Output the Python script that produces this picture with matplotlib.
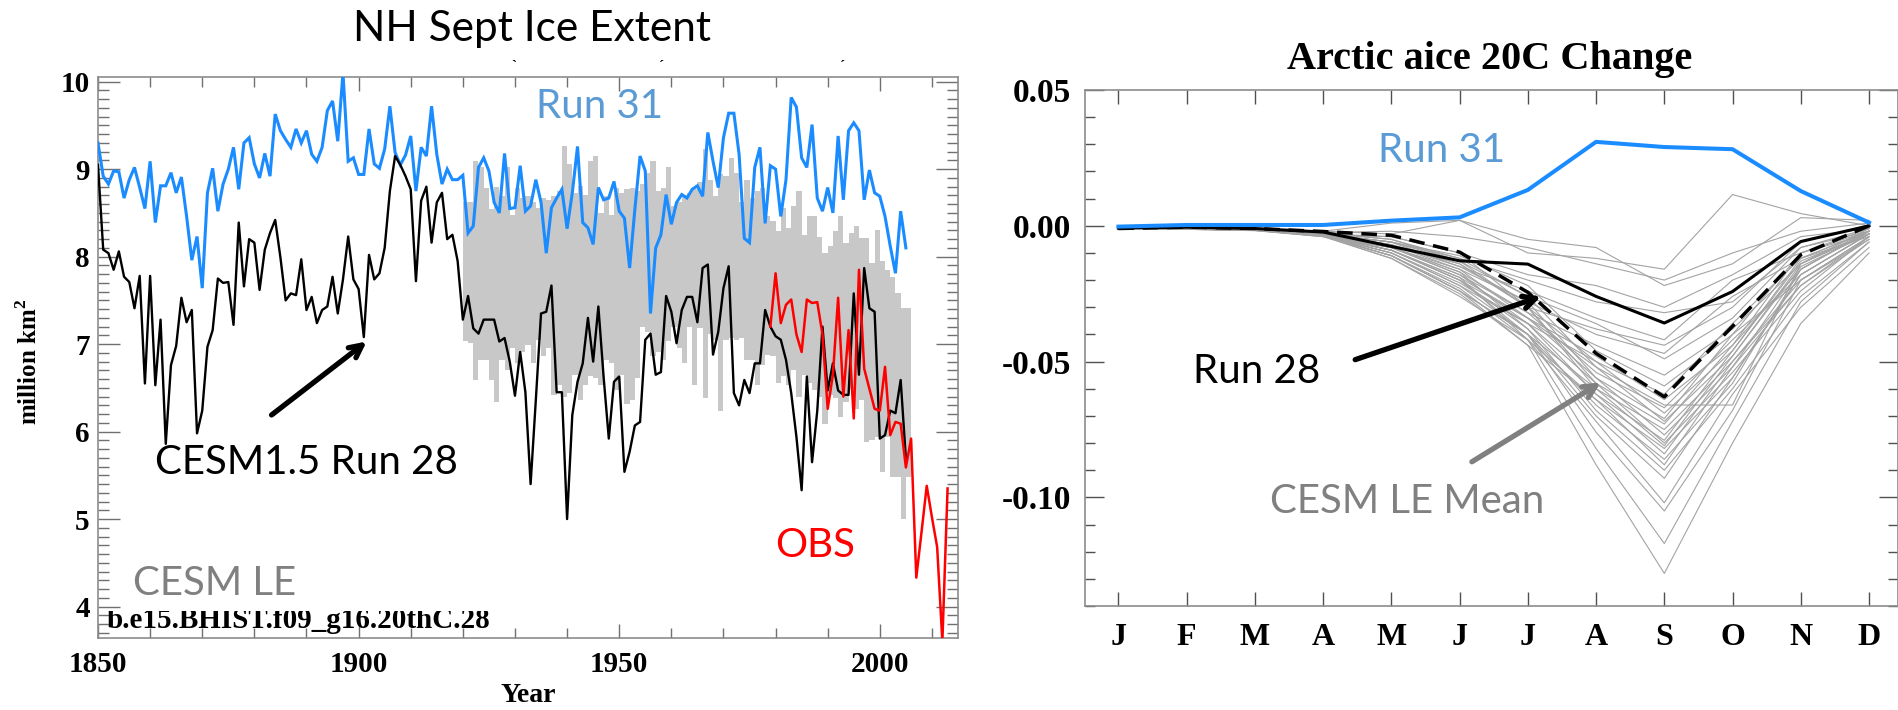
import matplotlib
matplotlib.use("Agg")
import matplotlib.pyplot as plt
from matplotlib.ticker import MultipleLocator, FixedLocator, FixedFormatter
from matplotlib.transforms import Bbox, TransformedBbox
import numpy as np

# ---------------- data: left panel (NH Sept ice extent, million km^2) ----------------
years = list(range(1850, 2006))
run31 = [
    9.30, 8.92, 8.83, 8.98, 8.97, 8.67, 8.88, 9.02, 8.79, 8.55,   # 1850s
    9.09, 8.39, 8.81, 8.81, 8.96, 8.73, 8.91, 8.46, 7.96, 8.23,   # 1860s
    7.64, 8.73, 9.01, 8.52, 8.83, 9.00, 9.25, 8.77, 9.30, 9.36,   # 1870s
    9.06, 8.90, 9.18, 8.92, 9.63, 9.44, 9.34, 9.25, 9.46, 9.30,   # 1880s
    9.44, 9.17, 9.09, 9.25, 9.67, 9.78, 9.32, 10.10, 9.09, 9.13,  # 1890s
    8.94, 8.94, 9.46, 9.06, 9.01, 9.23, 9.72, 9.19, 9.05, 9.16,   # 1900s
    9.38, 8.75, 9.25, 9.15, 9.72, 9.17, 8.83, 9.00, 8.88, 8.88,   # 1910s
    8.93, 8.27, 8.35, 9.02, 9.13, 8.98, 8.62, 8.50, 9.18, 8.55,   # 1920s
    8.56, 9.04, 8.52, 8.58, 8.88, 8.62, 8.04, 8.56, 8.67, 8.77,   # 1930s
    8.32, 8.73, 9.26, 8.39, 8.33, 8.14, 8.79, 8.65, 8.67, 8.86,   # 1940s
    8.52, 8.44, 7.87, 8.54, 9.15, 8.98, 7.35, 8.10, 8.25, 8.71,   # 1950s
    8.37, 8.62, 8.71, 8.67, 8.77, 8.81, 8.69, 9.42, 9.09, 8.79,   # 1960s
    9.36, 9.64, 9.64, 9.17, 8.21, 8.16, 9.02, 9.25, 8.38, 9.04,   # 1970s
    9.00, 8.46, 8.88, 9.82, 9.71, 9.13, 9.02, 9.51, 8.67, 8.52,   # 1980s
    8.79, 8.50, 9.38, 8.65, 9.44, 9.53, 9.44, 8.65, 8.99, 8.73,   # 1990s
    8.69, 8.46, 8.12, 7.81, 8.52, 8.10,                           # 2000-2005
]
run28 = [
    9.05, 8.08, 8.04, 7.85, 8.06, 7.77, 7.71, 7.41, 7.78, 6.55,
    7.78, 6.53, 7.28, 5.86, 6.76, 6.98, 7.53, 7.25, 7.39, 5.98,
    6.24, 6.97, 7.16, 7.75, 7.70, 7.71, 7.22, 8.39, 7.66, 8.20,
    8.16, 7.62, 8.08, 8.27, 8.42, 7.99, 7.50, 7.58, 7.56, 7.97,
    7.39, 7.54, 7.24, 7.39, 7.43, 7.77, 7.35, 7.74, 8.23, 7.74,
    7.63, 7.08, 8.02, 7.74, 7.81, 8.10, 8.75, 9.15, 9.05, 8.92,
    8.77, 7.72, 8.64, 8.80, 8.16, 8.62, 8.73, 8.20, 8.25, 7.95,
    7.28, 7.55, 7.18, 7.12, 7.28, 7.28, 7.28, 7.03, 7.07, 6.80,
    6.41, 6.91, 6.45, 5.40, 6.36, 7.35, 7.37, 7.67, 6.45, 6.45,
    5.00, 6.19, 6.57, 6.78, 7.30, 6.80, 7.43, 6.63, 5.92, 6.57,
    6.63, 5.54, 5.77, 6.07, 6.11, 7.05, 7.12, 6.65, 6.68, 7.55,
    7.37, 7.01, 7.39, 7.54, 7.54, 7.25, 7.87, 7.91, 6.88, 7.14,
    7.64, 7.89, 6.44, 6.30, 6.59, 6.44, 6.78, 6.78, 7.39, 7.20,
    7.09, 7.05, 6.82, 6.44, 5.94, 5.33, 6.63, 5.65, 6.24, 7.20,
    6.47, 6.78, 6.47, 6.42, 6.42, 7.58, 6.65, 7.87, 7.41, 7.37,
    5.92, 5.96, 6.24, 6.21, 6.59, 5.69,
]
obs_years = list(range(1979, 2014))
obs = [
    7.20, 7.81, 7.24, 7.45, 7.51, 7.11, 6.91, 7.51, 7.47, 7.48,
    7.11, 6.26, 6.65, 7.53, 6.40, 7.16, 6.15, 7.85, 6.72, 6.49,
    6.26, 6.24, 6.74, 5.96, 6.11, 6.09, 5.59, 5.92, 4.33, 4.85,
    5.38, 5.02, 4.68, 3.60, 5.35,
]
le_years = list(range(1920, 2006))
le_max = [
    8.62, 8.62, 9.09, 9.02, 8.79, 8.55, 8.80, 8.69, 9.02, 8.48,
    8.79, 8.67, 8.69, 8.62, 8.56, 8.67, 8.65, 8.69, 8.75, 9.27,
    9.06, 8.73, 8.81, 8.71, 9.09, 9.15, 8.50, 8.69, 8.48, 8.79,
    8.73, 8.77, 8.79, 8.75, 8.83, 8.96, 9.09, 8.75, 8.79, 9.02,
    8.58, 8.62, 8.71, 8.73, 8.77, 8.85, 9.23, 8.88, 8.69, 8.94,
    8.92, 9.13, 8.96, 8.62, 8.88, 8.67, 8.75, 8.79, 8.46, 8.41,
    8.29, 8.56, 8.33, 8.58, 8.75, 8.25, 8.46, 8.46, 8.23, 8.04,
    8.12, 8.29, 8.46, 8.16, 8.27, 8.35, 8.21, 8.21, 7.93, 8.31,
    7.95, 7.85, 7.77, 7.58, 7.41, 7.41,
]
le_min = [
    7.03, 7.01, 6.59, 6.82, 6.82, 6.59, 6.34, 6.82, 6.70, 6.95,
    6.78, 6.91, 6.99, 6.78, 7.05, 6.86, 6.95, 6.42, 6.53, 6.40,
    6.44, 6.65, 6.36, 6.53, 6.63, 6.61, 6.53, 6.82, 6.78, 6.47,
    6.65, 6.32, 6.36, 6.61, 7.20, 7.14, 6.86, 6.91, 6.82, 7.03,
    7.20, 6.95, 6.78, 7.20, 6.53, 7.18, 6.38, 7.12, 7.05, 6.23,
    7.05, 7.07, 7.05, 7.07, 6.82, 6.82, 6.53, 6.76, 6.88, 6.86,
    6.55, 6.63, 6.53, 6.70, 6.40, 6.65, 6.55, 6.47, 6.40, 6.09,
    6.42, 6.38, 6.17, 6.34, 6.49, 6.26, 6.36, 5.88, 5.90, 5.94,
    5.54, 5.94, 5.48, 5.48, 5.00, 5.48,
]
left_xticks = [1850, 1900, 1950, 2000]
left_yticks = [4, 5, 6, 7, 8, 9, 10]

# ---------------- data: right panel (Arctic aice 20C change) ----------------
months = ["J", "F", "M", "A", "M", "J", "J", "A", "S", "O", "N", "D"]
run31_m = [-0.0003, 0.0003, 0.0003, 0.0003, 0.0019, 0.0031, 0.0132, 0.0309, 0.0290, 0.0282, 0.0128, 0.0012]
run28_m = [-0.0009, -0.0005, -0.0010, -0.0023, -0.0076, -0.0129, -0.0141, -0.0260, -0.0358, -0.0242, -0.0058, 0.0000]
le_mean_m = [-0.0010, -0.0005, -0.0010, -0.0021, -0.0035, -0.0097, -0.0245, -0.0470, -0.0630, -0.0370, -0.0107, 0.0000]
members = [
    [-0.0005, -0.0008, -0.0010, -0.0020, -0.0030, 0.0020, -0.0100, -0.0120, -0.0160, 0.0115, 0.0045, 0.0000],
    [-0.0006, -0.0009, -0.0012, -0.0025, -0.0020, -0.0040, -0.0080, -0.0140, -0.0200, -0.0100, -0.0020, 0.0010],
    [-0.0004, -0.0007, -0.0011, -0.0020, 0.0010, 0.0020, -0.0050, -0.0080, -0.0220, -0.0140, 0.0030, 0.0020],
    [-0.0005, -0.0010, -0.0013, -0.0030, -0.0040, -0.0100, -0.0180, -0.0220, -0.0300, -0.0180, -0.0040, -0.0010],
    [-0.0007, -0.0008, -0.0012, -0.0025, -0.0050, -0.0120, -0.0200, -0.0280, -0.0320, -0.0280, -0.0080, -0.0020],
    [-0.0006, -0.0009, -0.0014, -0.0030, -0.0060, -0.0150, -0.0240, -0.0340, -0.0420, -0.0200, -0.0100, -0.0030],
    [-0.0005, -0.0011, -0.0015, -0.0035, -0.0040, -0.0100, -0.0300, -0.0380, -0.0440, -0.0300, -0.0060, 0.0000],
    [-0.0008, -0.0010, -0.0013, -0.0030, -0.0070, -0.0160, -0.0280, -0.0400, -0.0470, -0.0260, -0.0120, -0.0020],
    [-0.0006, -0.0009, -0.0012, -0.0028, -0.0050, -0.0130, -0.0260, -0.0360, -0.0490, -0.0340, -0.0080, -0.0010],
    [-0.0007, -0.0012, -0.0016, -0.0040, -0.0080, -0.0180, -0.0320, -0.0440, -0.0550, -0.0380, -0.0140, -0.0030],
    [-0.0005, -0.0009, -0.0013, -0.0030, -0.0060, -0.0110, -0.0220, -0.0460, -0.0590, -0.0400, -0.0100, -0.0020],
    [-0.0006, -0.0010, -0.0014, -0.0032, -0.0070, -0.0140, -0.0300, -0.0500, -0.0620, -0.0360, -0.0120, -0.0040],
    [-0.0008, -0.0011, -0.0015, -0.0035, -0.0090, -0.0200, -0.0340, -0.0480, -0.0640, -0.0440, -0.0160, -0.0020],
    [-0.0006, -0.0009, -0.0012, -0.0030, -0.0060, -0.0120, -0.0260, -0.0520, -0.0660, -0.0660, -0.0140, -0.0010],
    [-0.0007, -0.0010, -0.0014, -0.0033, -0.0080, -0.0170, -0.0320, -0.0540, -0.0670, -0.0420, -0.0180, -0.0030],
    [-0.0005, -0.0012, -0.0016, -0.0036, -0.0100, -0.0220, -0.0360, -0.0500, -0.0690, -0.0460, -0.0120, -0.0020],
    [-0.0006, -0.0010, -0.0013, -0.0030, -0.0070, -0.0150, -0.0280, -0.0560, -0.0710, -0.0400, -0.0200, -0.0040],
    [-0.0008, -0.0011, -0.0015, -0.0034, -0.0090, -0.0190, -0.0340, -0.0520, -0.0720, -0.0480, -0.0150, -0.0030],
    [-0.0006, -0.0009, -0.0012, -0.0029, -0.0060, -0.0130, -0.0300, -0.0580, -0.0730, -0.0440, -0.0100, -0.0010],
    [-0.0007, -0.0013, -0.0017, -0.0038, -0.0110, -0.0240, -0.0400, -0.0600, -0.0750, -0.0500, -0.0220, -0.0050],
    [-0.0005, -0.0010, -0.0014, -0.0032, -0.0080, -0.0160, -0.0340, -0.0560, -0.0770, -0.0520, -0.0160, -0.0020],
    [-0.0006, -0.0011, -0.0015, -0.0035, -0.0090, -0.0200, -0.0380, -0.0620, -0.0790, -0.0460, -0.0130, -0.0030],
    [-0.0008, -0.0012, -0.0016, -0.0036, -0.0100, -0.0210, -0.0360, -0.0580, -0.0800, -0.0540, -0.0240, -0.0040],
    [-0.0006, -0.0009, -0.0013, -0.0030, -0.0070, -0.0140, -0.0300, -0.0600, -0.0810, -0.0480, -0.0140, -0.0020],
    [-0.0007, -0.0012, -0.0016, -0.0037, -0.0110, -0.0230, -0.0420, -0.0640, -0.0820, -0.0560, -0.0180, -0.0030],
    [-0.0005, -0.0010, -0.0014, -0.0033, -0.0080, -0.0180, -0.0360, -0.0620, -0.0840, -0.0500, -0.0200, -0.0050],
    [-0.0006, -0.0011, -0.0015, -0.0034, -0.0090, -0.0200, -0.0400, -0.0660, -0.0860, -0.0580, -0.0160, -0.0020],
    [-0.0008, -0.0013, -0.0017, -0.0038, -0.0120, -0.0250, -0.0440, -0.0640, -0.0880, -0.0520, -0.0220, -0.0040],
    [-0.0006, -0.0010, -0.0014, -0.0032, -0.0080, -0.0170, -0.0380, -0.0680, -0.0900, -0.0600, -0.0260, -0.0060],
    [-0.0007, -0.0012, -0.0016, -0.0036, -0.0100, -0.0220, -0.0400, -0.0700, -0.0930, -0.0560, -0.0180, -0.0030],
    [-0.0005, -0.0011, -0.0015, -0.0035, -0.0090, -0.0190, -0.0420, -0.0720, -0.1020, -0.0620, -0.0300, -0.0080],
    [-0.0006, -0.0012, -0.0016, -0.0037, -0.0110, -0.0240, -0.0400, -0.0760, -0.1050, -0.0680, -0.0200, -0.0040],
    [-0.0008, -0.0013, -0.0018, -0.0040, -0.0120, -0.0260, -0.0420, -0.0820, -0.1170, -0.0720, -0.0280, -0.0060],
    [-0.0007, -0.0012, -0.0017, -0.0039, -0.0110, -0.0240, -0.0440, -0.0880, -0.1280, -0.0800, -0.0360, -0.0100],
]
right_yticks = [0.05, 0.00, -0.05, -0.10]
right_yticklabels = ["0.05", "0.00", "-0.05", "-0.10"]

# ---------------- styling ----------------
W, H = 1899, 710
SERIF = "Liberation Serif"
SANS = "Lato"
BLUE = "#1a8cff"
LBLUE = "#5b9bd5"
GRAYTXT = "#808080"
SPINE = "#8c8c8c"

fig = plt.figure(figsize=(W / 100, H / 100), dpi=100)
fig.patch.set_facecolor("white")

# ================= LEFT PANEL =================
axL = fig.add_axes([98 / W, 1 - 638 / H, 860 / W, 561 / H])
heights = [t - b for t, b in zip(le_max, le_min)]
axL.bar(le_years, heights, bottom=le_min, width=1.0, align="edge",
        color="#c8c8c8", linewidth=0, zorder=1)
axL.plot(years, run31, color=BLUE, lw=2.2, zorder=3, solid_joinstyle="miter")
axL.plot(years, run28, color="black", lw=1.7, zorder=4)
axL.plot(obs_years, obs, color="red", lw=1.8, zorder=5)
axL.set_xlim(1850, 2015)
axL.set_ylim(3.64, 10.054)
axL.set_xticks(left_xticks)
axL.set_xticklabels([str(v) for v in left_xticks])
axL.xaxis.set_minor_locator(MultipleLocator(10))
axL.set_yticks(left_yticks)
axL.set_yticklabels([str(v) for v in left_yticks])
axL.yaxis.set_minor_locator(MultipleLocator(0.1))
axL.tick_params(axis="both", which="both", direction="in", top=True, right=True,
                color="#707070", width=1.0)
axL.tick_params(axis="x", which="major", length=10, pad=9)
axL.tick_params(axis="x", which="minor", length=7)
axL.tick_params(axis="y", which="major", length=16, pad=6)
axL.tick_params(axis="y", which="minor", length=8)
for lab in axL.get_xticklabels() + axL.get_yticklabels():
    lab.set_fontfamily(SERIF)
    lab.set_fontweight("bold")
    lab.set_fontsize(21)
for sp in axL.spines.values():
    sp.set_color(SPINE)
    sp.set_linewidth(1.2)

axL.set_xlabel("Year", fontfamily=SERIF, fontweight="bold", fontsize=20, labelpad=4)
fig.text(29.5 / W, 1 - 362 / H, "million km$^\\mathregular{2}$", rotation=90,
         ha="center", va="center", fontfamily=SERIF, fontweight="bold", fontsize=18)

fig.text(532 / W, 1 - 29 / H, "NH Sept Ice Extent", ha="center", va="center",
         fontfamily=SANS, fontsize=30.5)

axL.text(1946.3, 9.72, "Run 31", color=LBLUE, ha="center", va="center",
         fontfamily=SANS, fontsize=29, zorder=6)
axL.text(1889.9, 5.65, "CESM1.5 Run 28", color="black", ha="center", va="center",
         fontfamily=SANS, fontsize=29, zorder=6)
axL.text(1987.6, 4.70, "OBS", color="red", ha="center", va="center",
         fontfamily=SANS, fontsize=29, zorder=6)
axL.text(1872.3, 4.26, "CESM LE", color=GRAYTXT, ha="center", va="center",
         fontfamily=SANS, fontsize=29, zorder=6)
axL.annotate("", xy=(1901.55, 7.03), xytext=(1883.3, 6.19),
             arrowprops=dict(arrowstyle="->,head_length=0.9,head_width=0.45",
                             color="black", lw=3.8, shrinkA=0, shrinkB=0), zorder=6)

# partly hidden run-name text at the bottom of the panel
t = fig.text(107 / W, 1 - 628 / H, "b.e15.BHIST.f09_g16.20thC.28", ha="left",
             va="baseline", fontfamily=SERIF, fontweight="bold", fontsize=21)
t.set_clip_box(TransformedBbox(Bbox([[0, 0], [1, 1 - 611 / H]]), fig.transFigure))
t.set_clip_on(True)

# small stray marks above the panel
for xm, ch in [(514, "`"), (661, "\u00b4"), (842, "\u00b4")]:
    fig.text(xm / W, 1 - 66 / H, ch, ha="center", va="center", fontsize=11,
             fontfamily=SERIF, fontweight="bold")

# ================= RIGHT PANEL =================
axR = fig.add_axes([1085 / W, 1 - 606 / H, 813 / W, 516 / H])
mx = list(range(1, 13))
for m in members:
    axR.plot(mx, m, color="#a3a3a3", lw=0.8, zorder=2)
axR.plot(mx, run28_m, color="black", lw=2.2, zorder=4)
axR.plot(mx, le_mean_m, color="black", lw=2.5, dashes=(4.5, 2.5), zorder=4)
axR.plot(mx, run31_m, color=BLUE, lw=2.9, zorder=5)
axR.set_xlim(0.51, 12.425)
axR.set_ylim(-0.14, 0.05)
axR.xaxis.set_major_locator(FixedLocator(mx))
axR.xaxis.set_major_formatter(FixedFormatter(months))
axR.yaxis.set_major_locator(FixedLocator(right_yticks))
axR.yaxis.set_major_formatter(FixedFormatter(right_yticklabels))
axR.yaxis.set_minor_locator(MultipleLocator(0.01))
axR.tick_params(axis="both", which="both", direction="in", top=True, right=True,
                color="#505050", width=1.0)
axR.tick_params(axis="x", which="major", length=10, pad=12)
axR.tick_params(axis="y", which="major", length=14, pad=10)
axR.tick_params(axis="y", which="minor", length=7)
for lab in axR.get_xticklabels():
    lab.set_fontfamily(SERIF)
    lab.set_fontweight("bold")
    lab.set_fontsize(23)
for lab in axR.get_yticklabels():
    lab.set_fontfamily(SERIF)
    lab.set_fontweight("bold")
    lab.set_fontsize(24)
for sp in axR.spines.values():
    sp.set_color(SPINE)
    sp.set_linewidth(1.2)

fig.text(1490 / W, 1 - 60 / H, "Arctic aice 20C Change", ha="center", va="center",
         fontfamily=SERIF, fontweight="bold", fontsize=29)

axR.text(5.74, 0.0277, "Run 31", color=LBLUE, ha="center", va="center",
         fontfamily=SANS, fontsize=29, zorder=6)
axR.text(3.02, -0.0537, "Run 28", color="black", ha="center", va="center",
         fontfamily=SANS, fontsize=29, zorder=6)
axR.text(5.23, -0.1016, "CESM LE Mean", color=GRAYTXT, ha="center", va="center",
         fontfamily=SANS, fontsize=29, zorder=6)
axR.annotate("", xy=(7.195, -0.026), xytext=(4.47, -0.0493),
             arrowprops=dict(arrowstyle="->,head_length=0.9,head_width=0.45",
                             color="black", lw=3.8, shrinkA=0, shrinkB=0), zorder=6)
axR.annotate("", xy=(8.07, -0.0577), xytext=(6.18, -0.0869),
             arrowprops=dict(arrowstyle="->,head_length=0.9,head_width=0.45",
                             color=GRAYTXT, lw=3.8, shrinkA=0, shrinkB=0), zorder=6)

fig.savefig("out.png", dpi=100, facecolor="white")
